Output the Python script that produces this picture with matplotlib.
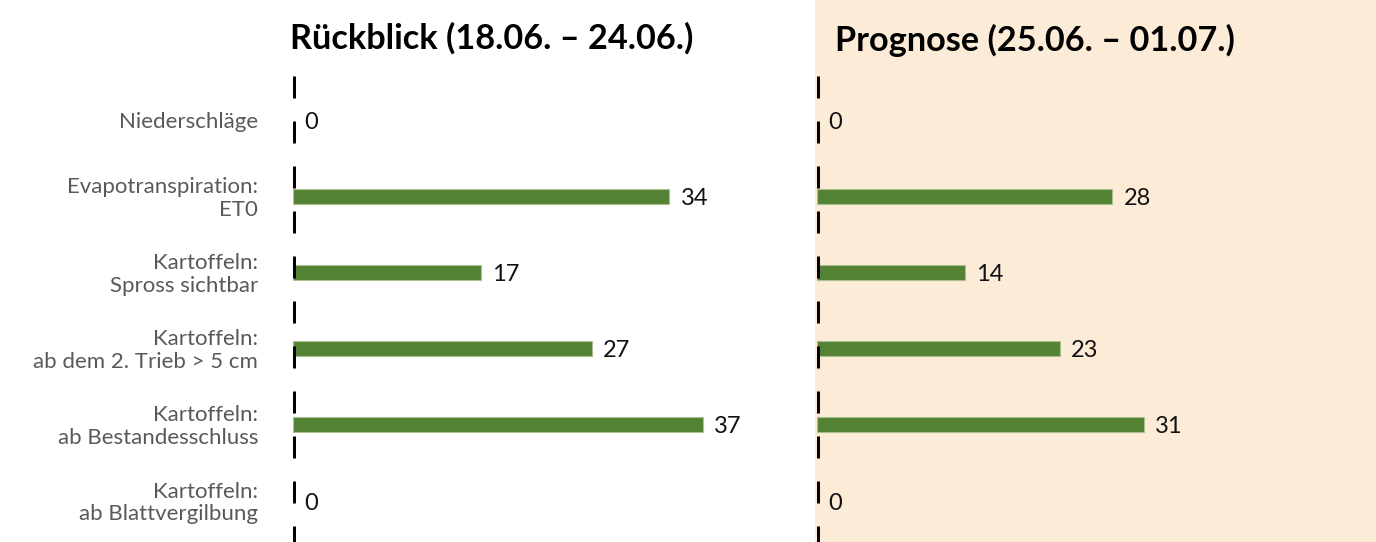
import matplotlib
matplotlib.use("Agg")
import matplotlib.pyplot as plt

categories = ["Niederschläge", "Evapotranspiration:\nET0", "Kartoffeln:\nSpross sichtbar",
              "Kartoffeln:\nab dem 2. Trieb > 5 cm", "Kartoffeln:\nab Bestandesschluss",
              "Kartoffeln:\nab Blattvergilbung"]
rueckblick = [0, 34, 17, 27, 37, 0]
prognose = [0, 28, 14, 23, 31, 0]
title_left = "Rückblick (18.06. – 24.06.)"
title_right = "Prognose (25.06. – 01.07.)"

W, H = 1376, 542
fig = plt.figure(figsize=(W / 100, H / 100), dpi=100)
fig.patch.set_facecolor("white")

# peach background for forecast panel
bg = fig.add_axes([815 / W, 0, (W - 815) / W, 1])
bg.set_facecolor("#FCEBD7")
bg.set_xticks([]); bg.set_yticks([])
for s in bg.spines.values():
    s.set_visible(False)
bg.set_zorder(0)

row0, step = 120, 76.2
y_top = -row0 / step
y_bot = (H - row0) / step

FONT = "Lato"
GREEN = "#548235"

def panel(left_px, px_per_unit, values):
    width_px = W - left_px - 20
    ax = fig.add_axes([left_px / W, 0, width_px / W, 1])
    ax.set_zorder(1)
    ax.patch.set_alpha(0)
    ax.set_xlim(0, width_px / px_per_unit)
    ax.set_ylim(y_bot, y_top)
    ypos = list(range(len(values)))
    bars = ax.barh(ypos, values, height=0.2, color=GREEN, edgecolor="#A9C18F",
                   linewidth=0.8, zorder=2)
    for b, v in zip(bars, values):
        if v == 0:
            b.set_linewidth(0)
    ax.plot([0, 0], [(76 - row0) / step, y_bot], color="black", lw=3.6,
            linestyle=(0, (4.4, 4.6)), solid_capstyle="butt", dash_capstyle="butt", zorder=3)
    for y, v in zip(ypos, values):
        ax.annotate(str(v), (v, y), xytext=(8, -1.5), textcoords="offset points",
                    ha="left", va="center", fontsize=17, family=FONT, color="#111111")
    ax.set_xticks([]); ax.set_yticks([])
    for s in ax.spines.values():
        s.set_visible(False)
    return ax

axL = panel(293, 11.07, rueckblick)
axR = panel(817, 10.55, prognose)

# category labels
for i, c in enumerate(categories):
    axL.annotate(c, (0, i), xytext=(-35, -2), textcoords="offset pixels",
                 ha="right", va="center", fontsize=16, family=FONT, color="#595959",
                 multialignment="right", linespacing=1.17)

fig.text(290 / W, 1 - 38 / H, title_left, ha="left", va="center", fontsize=24.7,
         fontweight="bold", family=FONT, color="black")
fig.text(835 / W, 1 - 40 / H, title_right, ha="left", va="center", fontsize=24.7,
         fontweight="bold", family=FONT, color="black")

fig.savefig("out.png", dpi=100)
